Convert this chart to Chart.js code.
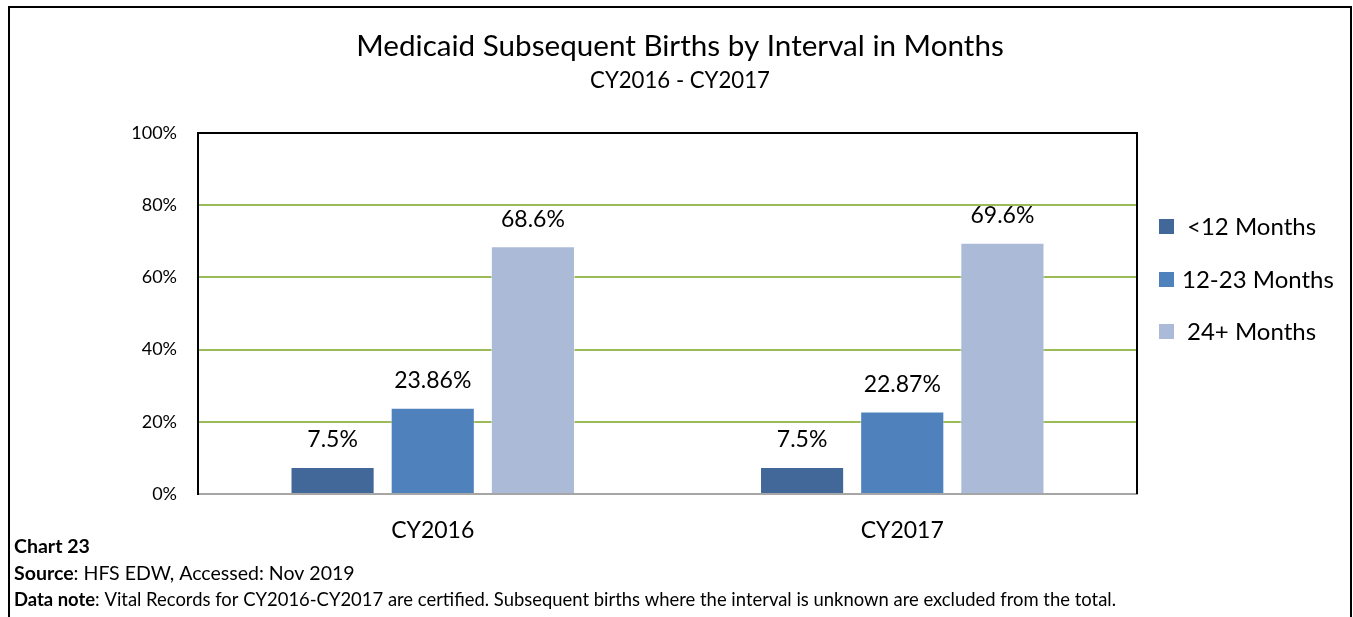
<!DOCTYPE html>
<html>
<head>
<meta charset="utf-8">
<script src="https://cdn.jsdelivr.net/npm/chart.js@4.4.0/dist/chart.umd.min.js"></script>
<style>
    html, body { margin: 0; padding: 0; background: #fff; }
    #wrap { position: relative; width: 1353px; height: 617px; }
</style>
</head>
<body>
<div id="wrap"><canvas id="birthsChart" width="1353" height="617"></canvas></div>
<script>
'use strict';

// data
const categories = ['CY2016', 'CY2017'];
const seriesNames = ['<12 Months', '12-23 Months', '24+ Months'];
const under12 = [7.5, 7.5];
const from12to23 = [23.86, 22.87];
const over24 = [68.6, 69.6];
const yTicks = [0, 20, 40, 60, 80, 100];

const chartTitle = 'Medicaid Subsequent Births by Interval in Months';
const chartSubtitle = 'CY2016 - CY2017';
const footerLines = [
    [['Chart 23', true]],
    [['Source', true], [': HFS EDW, Accessed: Nov 2019', false]],
    [['Data note', true], [': Vital Records for CY2016-CY2017 are certified. Subsequent births where the interval is unknown are excluded from the total.', false]]
];

const FONT = 'Lato, "Open Sans", sans-serif';
const colors = ['#426899', '#4f81bd', '#aabad7'];

// pick a font size so the text spans roughly the same width as in the reference
function fitFont(ctx, text, width, bold) {
    ctx.font = (bold ? 'bold ' : '') + '20px ' + FONT;
    let w = ctx.measureText(text).width;
    return 20 * width / w;
}

let decorPlugin = {
    id: 'decor',
    afterDraw: function (chart) {
        let ctx = chart.ctx;
        let area = chart.chartArea;
        ctx.save();

        // box edges (top and right), left is the y axis border
        ctx.strokeStyle = '#000';
        ctx.lineWidth = 2;
        ctx.beginPath();
        ctx.moveTo(area.left, area.top);
        ctx.lineTo(area.right, area.top);
        ctx.lineTo(area.right, area.bottom);
        ctx.stroke();

        // outer frame
        ctx.lineWidth = 2;
        ctx.strokeRect(9, 7, 1342, 640);

        // title
        ctx.fillStyle = '#000';
        ctx.textAlign = 'center';
        ctx.textBaseline = 'middle';
        let ts = fitFont(ctx, chartTitle, 648, false);
        ctx.font = ts + 'px ' + FONT;
        ctx.fillText(chartTitle, 680, 46);
        let ss = fitFont(ctx, chartSubtitle, 180, false);
        ctx.font = ss + 'px ' + FONT;
        ctx.fillText(chartSubtitle, 680, 81);

        // value labels
        ctx.font = '23px ' + FONT;
        chart.data.datasets.forEach(function (ds, i) {
            let meta = chart.getDatasetMeta(i);
            meta.data.forEach(function (bar, j) {
                ctx.fillText(ds.data[j] + '%', bar.x, bar.y - 27);
            });
        });

        // legend
        let legendY = [226, 279, 331];
        let legendX = [1187, 1182, 1187];
        ctx.textAlign = 'left';
        ctx.font = '24px ' + FONT;
        chart.data.datasets.forEach(function (ds, i) {
            ctx.fillStyle = ds.backgroundColor;
            ctx.fillRect(1159, legendY[i] - 7, 15, 15);
            ctx.fillStyle = '#000';
            ctx.fillText(ds.label, legendX[i], legendY[i] + 1);
        });

        // footer notes
        let footY = [547, 574, 600];
        let noteSize = fitFont(ctx, footerLines[2].map(p => p[0]).join(''), 1102, false);
        let srcSize = fitFont(ctx, footerLines[1].map(p => p[0]).join(''), 340, false);
        let sizes = [srcSize, srcSize, noteSize];
        footerLines.forEach(function (parts, k) {
            let x = 14;
            parts.forEach(function (p) {
                ctx.font = (p[1] ? 'bold ' : '') + sizes[k] + 'px ' + FONT;
                ctx.fillText(p[0], x, footY[k]);
                x += ctx.measureText(p[0]).width;
            });
        });

        ctx.restore();
    }
};

let datasets = [under12, from12to23, over24].map(function (values, i) {
    return {
        label: seriesNames[i],
        data: values,
        backgroundColor: colors[i],
        borderColor: 'rgba(255,255,255,0.5)',
        borderWidth: 1,
        categoryPercentage: 0.64,
        barPercentage: 0.84
    };
});

let birthsChart = new Chart(document.getElementById('birthsChart'), {
    type: 'bar',
    data: {
        labels: categories,
        datasets: datasets
    },
    options: {
        responsive: false,
        animation: false,
        layout: {
            padding: { left: 0, top: 133, right: 216, bottom: 0 }
        },
        plugins: {
            legend: { display: false },
            title: { display: false },
            tooltip: { enabled: false }
        },
        scales: {
            x: {
                grid: { display: false },
                border: { color: '#a6a6a6', width: 2 },
                ticks: {
                    color: '#000',
                    font: { family: FONT, size: 23 },
                    padding: 15
                },
                afterFit: function (scale) { scale.height = 123; }
            },
            y: {
                min: 0,
                max: 100,
                afterBuildTicks: function (scale) {
                    scale.ticks = yTicks.map(v => ({ value: v }));
                },
                grid: {
                    color: '#9bbb59',
                    lineWidth: 2,
                    drawTicks: false
                },
                border: { color: '#000', width: 2 },
                ticks: {
                    color: '#000',
                    font: { family: FONT, size: 18 },
                    padding: 21,
                    callback: function (value) { return value + '%'; }
                },
                afterFit: function (scale) { scale.width = 198; }
            }
        }
    },
    plugins: [decorPlugin]
});
</script>
</body>
</html>
